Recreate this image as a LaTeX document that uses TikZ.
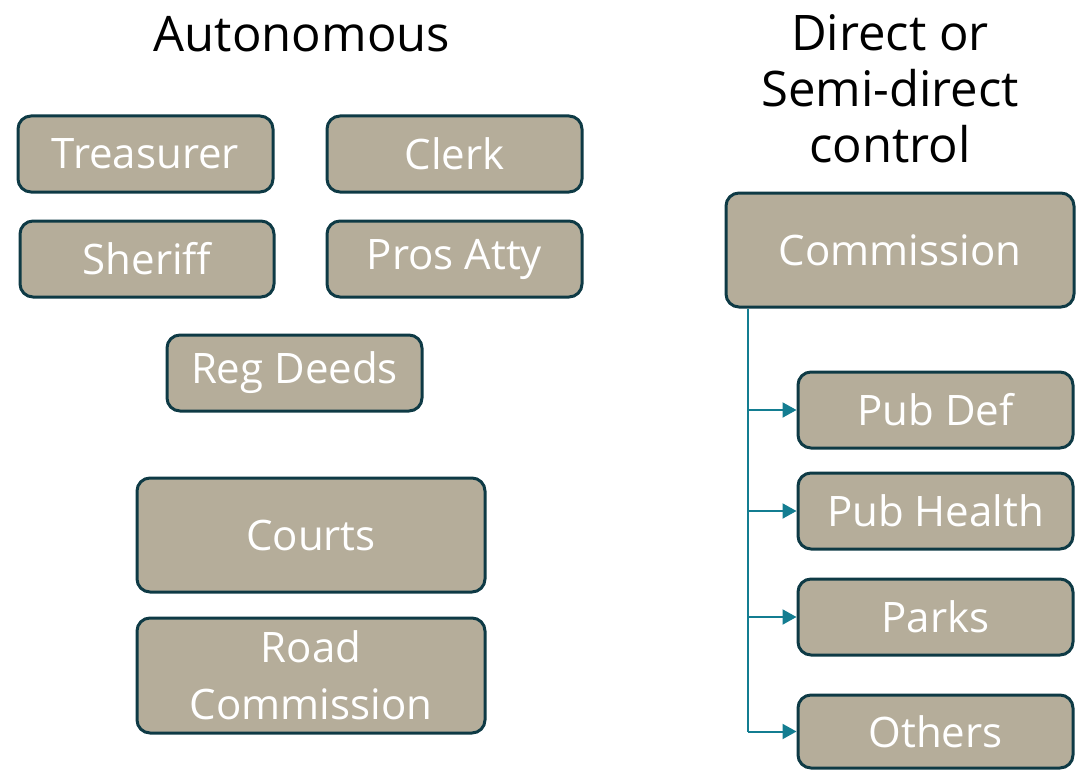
\documentclass[tikz,border=0pt]{standalone}
\usepackage{fontspec}
\setmainfont{Open Sans}
\usetikzlibrary{arrows.meta}
\definecolor{boxtan}{RGB}{181,173,154}
\definecolor{boxedge}{RGB}{14,58,69}
\definecolor{linkteal}{RGB}{19,125,145}
\tikzset{every picture/.style={line width=0.75pt}}
\tikzset{
  office/.style={draw=boxedge, line width=3pt, fill=boxtan, rounded corners=13pt,
    text=white, font=\fontsize{42}{57}\selectfont, inner sep=0pt, align=center},
  heading/.style={font=\fontsize{49}{56}\selectfont, align=center, inner sep=0pt},
  link/.style={draw=linkteal, line width=2pt},
}

\begin{document}
\begin{tikzpicture}[x=1pt,y=1pt,yscale=-1]
\useasboundingbox (0,0) rectangle (1083,770);

% Headings (base sits on the last line)
\node [heading, anchor=base] (auto) at (302,52) {Autonomous};
\node [heading, anchor=base] (direct) at (890,163) {Direct or\\Semi-direct\\control};

% Autonomous offices
\node [office, minimum width=255, minimum height=76] (tr) at (145.5,154) {Treasurer};
\node [office, minimum width=255, minimum height=76] (cl) at (454.5,154) {Clerk};
\node [office, minimum width=254, minimum height=76] (sh) at (147,259) {Sheriff};
\node [office, minimum width=255, minimum height=76] (pa) at (454.5,259) {Pros Atty};
\node [office, minimum width=255, minimum height=76] (rd) at (294.5,373) {Reg Deeds};
\node [office, minimum width=348, minimum height=114] (co) at (311,535) {Courts};
\node [office, minimum width=348, minimum height=115] (rc) at (311,675.5) {Road\\Commission};

% Commission and the offices under it
\node [office, minimum width=348, minimum height=114] (cm) at (900,250) {Commission};
\node [office, minimum width=275, minimum height=76] (pd) at (935.5,410) {Pub Def};
\node [office, minimum width=275, minimum height=76] (ph) at (935.5,511) {Pub Health};
\node [office, minimum width=275, minimum height=76] (pk) at (935.5,617) {Parks};
\node [office, minimum width=275, minimum height=73] (ot) at (935.5,731.5) {Others};

% Tree lines
\coordinate (trunk) at (748,0);
\draw [link] (cm.south -| trunk) -- (ot.west -| trunk);
\foreach \n in {pd,ph,pk,ot}
  \draw [link, -{Triangle[length=14pt,width=15pt]}] (\n.west -| trunk) -- (\n.west);

\end{tikzpicture}
\end{document}
